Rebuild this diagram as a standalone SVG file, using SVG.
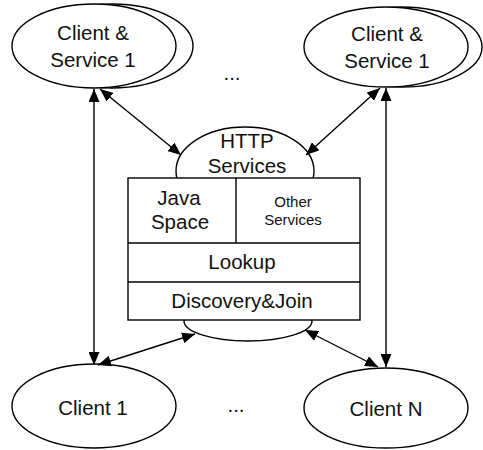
<svg xmlns="http://www.w3.org/2000/svg" width="483" height="450" viewBox="0 0 483 450">
<style>
.s{fill:#fff;stroke:#000;stroke-width:1.4}
.t{font-family:"Liberation Sans",Arial,sans-serif;font-size:20.5px;fill:#111;text-anchor:middle}
.sm{font-size:15px}
.c line{stroke:#000;stroke-width:1.4;marker-start:url(#a);marker-end:url(#a)}
</style>
<defs>
<marker id="a" viewBox="0 0 13 11" refX="13" refY="5.5" markerWidth="13" markerHeight="11" markerUnits="userSpaceOnUse" orient="auto-start-reverse">
<path d="M0,0 L13,5.5 L0,11 Z" fill="#000"/>
</marker>
</defs>
<g id="cs1">
<ellipse class="s" cx="112" cy="46" rx="81" ry="42"/>
<ellipse class="s" cx="94" cy="46" rx="82" ry="42"/>
<text class="t" x="93" y="40">Client &amp;</text>
<text class="t" x="93" y="67">Service 1</text>
</g>
<g id="cs2">
<ellipse class="s" cx="402" cy="47" rx="80" ry="40"/>
<ellipse class="s" cx="386" cy="47" rx="82" ry="40"/>
<text class="t" x="387" y="41">Client &amp;</text>
<text class="t" x="387" y="68">Service 1</text>
</g>
<g id="server">
<ellipse class="s" cx="245" cy="171" rx="69" ry="44"/>
<ellipse class="s" cx="248" cy="321" rx="64" ry="20"/>
<rect class="s" x="128" y="178" width="232" height="142"/>
<line class="s" x1="128" y1="243" x2="360" y2="243"/>
<line class="s" x1="128" y1="282" x2="360" y2="282"/>
<line class="s" x1="236" y1="178" x2="236" y2="243"/>
<text class="t" x="247" y="148">HTTP</text>
<text class="t" x="247" y="173">Services</text>
<text class="t" x="179" y="205">Java</text>
<text class="t" x="180" y="229">Space</text>
<text class="t sm" x="293" y="207">Other</text>
<text class="t sm" x="293" y="225">Services</text>
<text class="t" x="242" y="269">Lookup</text>
<text class="t" x="242" y="308">Discovery&amp;Join</text>
</g>
<g id="c1">
<ellipse class="s" cx="94" cy="406" rx="82" ry="42"/>
<text class="t" x="93" y="415">Client 1</text>
</g>
<g id="cN">
<ellipse class="s" cx="386" cy="408" rx="82" ry="40"/>
<text class="t" x="386" y="416">Client N</text>
</g>
<text class="t" x="232" y="80">...</text>
<text class="t" x="236" y="412">...</text>
<g class="c" id="connectors">
<line x1="94" y1="89" x2="94" y2="365"/>
<line x1="386" y1="88" x2="386" y2="367"/>
<line x1="100" y1="89" x2="181" y2="155"/>
<line x1="380" y1="88" x2="306" y2="155"/>
<line x1="98" y1="365" x2="195" y2="334"/>
<line x1="378" y1="367" x2="305" y2="330"/>
</g>
</svg>
